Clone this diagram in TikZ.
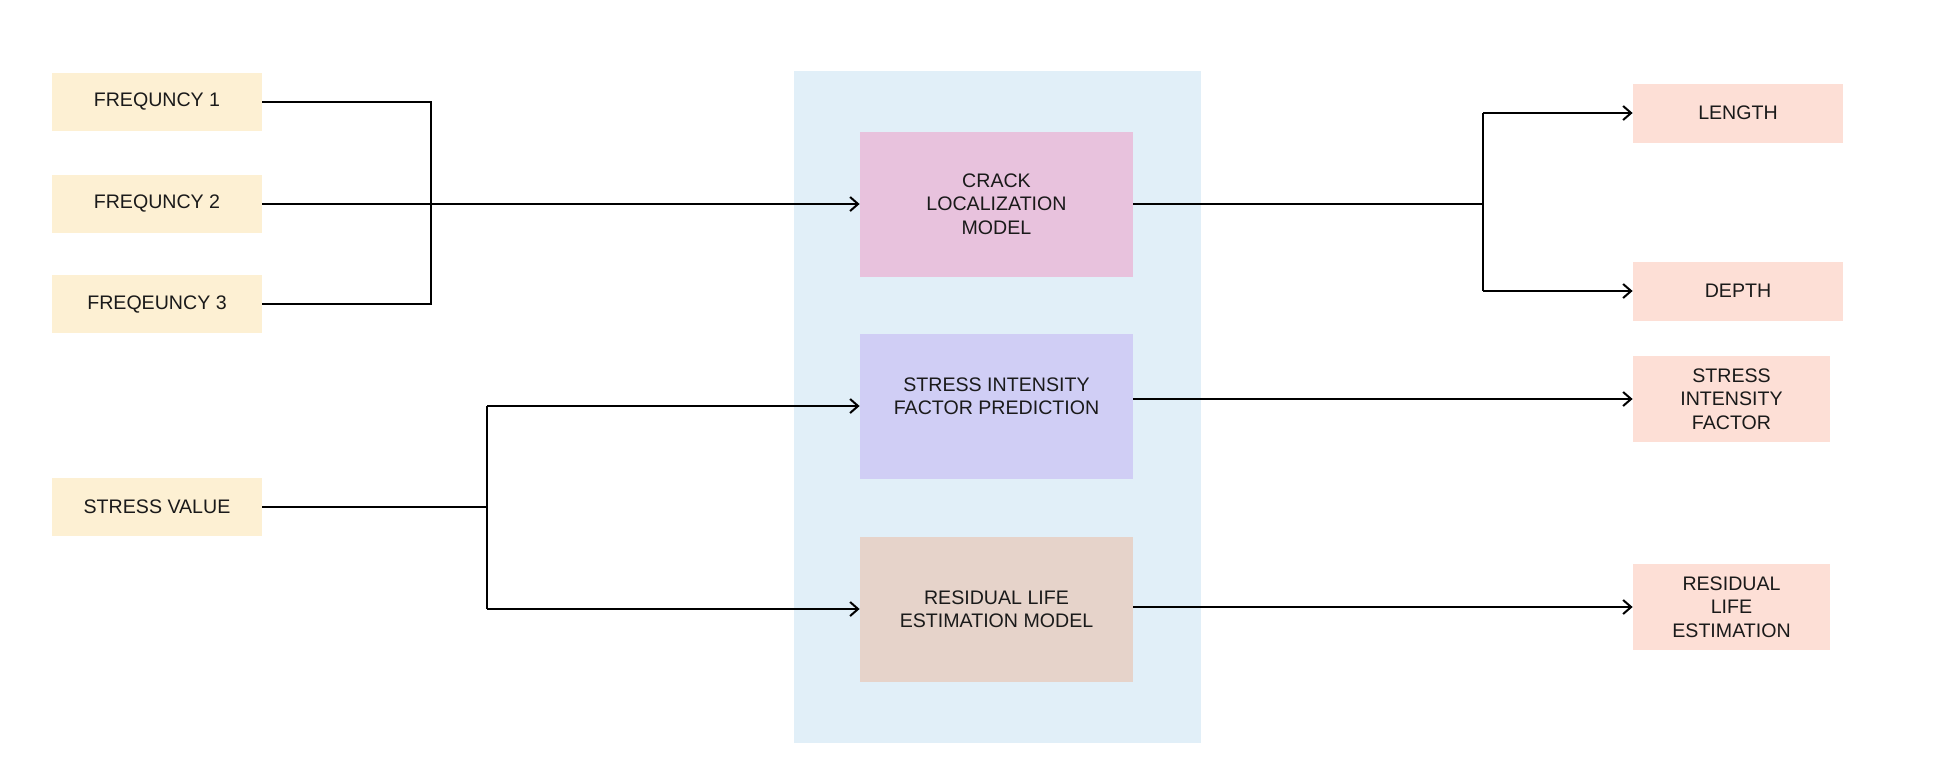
\documentclass[tikz,border=0pt]{standalone}
\usepackage{fontspec}
\setmainfont{Liberation Sans}
\usetikzlibrary{arrows.meta}
\definecolor{inbg}{HTML}{FDF0D3}
\definecolor{panelbg}{HTML}{E1EFF8}
\definecolor{crackbg}{HTML}{E8C2DD}
\definecolor{sifbg}{HTML}{D0CEF5}
\definecolor{rlebg}{HTML}{E6D3CA}
\definecolor{outbg}{HTML}{FDDFD6}
\definecolor{txt}{HTML}{1A1A1A}
\begin{document}
\begin{tikzpicture}[x=0.5pt,y=-0.5pt,
  box/.style={rectangle, inner sep=0pt, align=center, text=txt,
    font=\fontsize{9.8}{11.7}\selectfont},
  inbox/.style={box, fill=inbg, minimum width=105pt, minimum height=29pt},
  modelbox/.style={box, minimum width=136.5pt, minimum height=72.5pt},
  outbox/.style={box, fill=outbg, minimum width=105pt, minimum height=29.5pt},
  outtall/.style={box, fill=outbg, minimum width=98.5pt, minimum height=43pt},
  conn/.style={line width=1pt, black},
  arr/.style={conn, -{Straight Barb[length=4pt,width=7pt,line width=1pt]}}]
\useasboundingbox (0,0) rectangle (1936,783);
\fill[white] (0,0) rectangle (1936,783);

% panel
\node[rectangle, fill=panelbg, minimum width=203.5pt, minimum height=336pt, inner sep=0pt] (panel) at (997.5,407) {};

% inputs
\node[inbox] (f1) at (157,102) {FREQUNCY 1};
\node[inbox] (f2) at (157,204) {FREQUNCY 2};
\node[inbox] (f3) at (157,304) {FREQEUNCY 3};
\node[inbox] (sv) at (157,507) {STRESS VALUE};

% models
\node[modelbox, fill=crackbg] (crack) at (996.5,204) {CRACK\\LOCALIZATION\\MODEL};
\node[modelbox, fill=sifbg] (sif) at (996.5,406) {STRESS INTENSITY\\FACTOR PREDICTION\\[-2pt]\phantom{X}};
\node[modelbox, fill=rlebg] (rle) at (996.5,609) {RESIDUAL LIFE\\ESTIMATION MODEL};

% outputs
\node[outbox] (len) at (1738,113) {LENGTH};
\node[outbox] (dep) at (1738,291) {DEPTH};
\node[outtall] (sifo) at (1731.5,399) {STRESS\\INTENSITY\\FACTOR};
\node[outtall] (rleo) at (1731.5,607) {RESIDUAL\\LIFE\\ESTIMATION};

% junctions
\coordinate (jin) at (431,204);
\coordinate (jsv) at (487,507);
\coordinate (jout) at (1483,204);

% frequency bracket
\draw[conn] (f1.east) -- (f1.east -| jin) -- (f3.east -| jin) -- (f3.east);
\draw[arr] (f2.east) -- (crack.west);

% stress value bracket
\draw[conn] (sv.east) -- (jsv);
\draw[conn] (sif.west -| jsv) -- (rle.west -| jsv);
\draw[arr] (sif.west -| jsv) -- (sif.west);
\draw[arr] (rle.west -| jsv) -- (rle.west);

% crack outputs
\draw[conn] (crack.east) -- (jout);
\draw[conn] (len.west -| jout) -- (dep.west -| jout);
\draw[arr] (len.west -| jout) -- (len.west);
\draw[arr] (dep.west -| jout) -- (dep.west);

% model outputs
\draw[arr] (sifo.west -| sif.east) -- (sifo.west);
\draw[arr] (rleo.west -| rle.east) -- (rleo.west);
\end{tikzpicture}
\end{document}
